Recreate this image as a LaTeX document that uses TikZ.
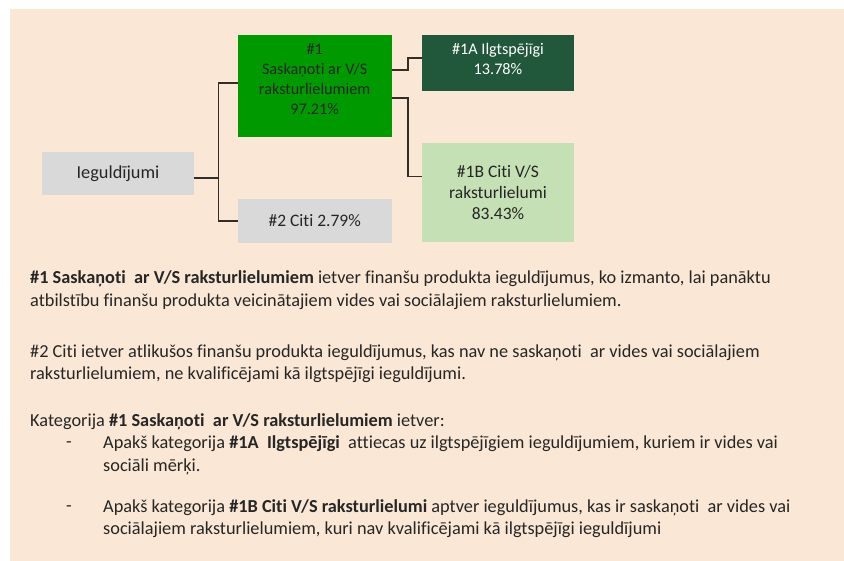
\documentclass[tikz,border=0pt]{standalone}
\usepackage{fontspec}
\setmainfont{Carlito}[Ligatures=NoCommon]
\usepackage{xcolor}
\usetikzlibrary{calc}
\definecolor{beige}{RGB}{250,231,213}
\definecolor{greyfill}{RGB}{217,217,217}
\definecolor{midgreen}{RGB}{0,153,0}
\definecolor{darkgreen}{RGB}{33,87,58}
\definecolor{lightgreen}{RGB}{197,224,180}
\definecolor{linkcol}{RGB}{50,45,40}
\tikzset{
  box/.style={inner sep=2pt, align=center, font=\fontsize{17.5}{21}\selectfont, text=black!85},
  narrow/.style={font=\fontsize{16.2}{20}\selectfont, align=center},
  link/.style={draw=linkcol, line width=1.4pt},
  txt/.style={anchor=west, inner sep=0pt, font=\fontsize{18.3}{20}\selectfont, text=black!85}
}
\begin{document}
\begin{tikzpicture}[x=1pt,y=-1pt]
      \useasboundingbox (0,0) rectangle (844,561);
      \fill[beige] (10,9) rectangle (844,561);
      % boxes
      \node[box, font=\fontsize{18.3}{21}\selectfont, fill=greyfill, minimum width=152pt, minimum height=43pt] (root) at (118,173.5) {Ieguldījumi};
      \node[box, fill=midgreen, minimum width=154pt, minimum height=102pt,
        label={[narrow, text=black!85, yshift=7pt]center:{\#1\\Saskaņoti ar V/S\\raksturlielumiem\\97.21\%}}] (s1) at (314.7,86) {};
      \node[box, fill=greyfill, minimum width=154pt, minimum height=44pt] (s2) at (314.7,221) {\#2 Citi 2.79\%};
      \node[box, fill=darkgreen, minimum width=152pt, minimum height=56pt,
        label={[narrow, text=white, yshift=4.5pt]center:{\#1A Ilgtspējīgi\\13.78\%}}] (s1a) at (498,63) {};
      \node[box, fill=lightgreen, minimum width=152pt, minimum height=99pt] (s1b) at (498,192.2) {\#1B Citi V/S\\raksturlielumi\\83.43\%};
      % connectors
      \draw[link] ([yshift=-4.5pt]root.east) -- ++(24,0) coordinate (fork);
      \draw[link] (fork) |- ([yshift=3pt]s1.west);
      \draw[link] (fork) |- (s2.west);
      \draw[link] ([yshift=16pt]s1.east) -- ++(16,0) |- ([yshift=5pt]s1a.west);
      \draw[link] ([yshift=-12pt]s1.east) -- ++(16,0) |- ([yshift=15.5pt]s1b.west);
      % explanatory text
      \node[txt] (p1a) at (30,279) {\textbf{\#1 Saskaņoti\ \ ar V/S raksturlielumiem} ietver finanšu\ produkta ieguldījumus, ko izmanto,\ lai panāktu};
      \node[txt] (p1b) at (30,302) {atbilstību finanšu\ produkta veicinātajiem vides vai sociālajiem raksturlielumiem.};
      \node[txt] (p2a) at (30,353) {\#2 Citi ietver atlikušos finanšu\ produkta ieguldījumus, kas nav ne saskaņoti\ \ ar vides vai\ sociālajiem};
      \node[txt] (p2b) at (30,375) {raksturlielumiem, ne kvalificējami kā ilgtspējīgi ieguldījumi.};
      \node[txt] (p3) at (30,422) {Kategorija \textbf{\#1 Saskaņoti\ \ ar V/S raksturlielumiem} ietver:};
      \node[txt] (d1) at (66,445) {-};
      \node[txt] (i1a) at (103,444) {Apakš\ kategorija \textbf{\#1A\ \ Ilgtspējīgi}\ \ attiecas uz\ ilgtspējīgiem ieguldījumiem, kuriem ir vides vai};
      \node[txt] (i1b) at (103,467) {sociāli mērķi.};
      \node[txt] (d2) at (66,509) {-};
      \node[txt] (i2a) at (103,508) {Apakš\ kategorija \textbf{\#1B Citi V/S raksturlielumi} aptver ieguldījumus, kas ir saskaņoti\ \ ar vides vai};
      \node[txt] (i2b) at (103,530) {sociālajiem raksturlielumiem, kuri nav kvalificējami kā ilgtspējīgi ieguldījumi};
\end{tikzpicture}
\end{document}
